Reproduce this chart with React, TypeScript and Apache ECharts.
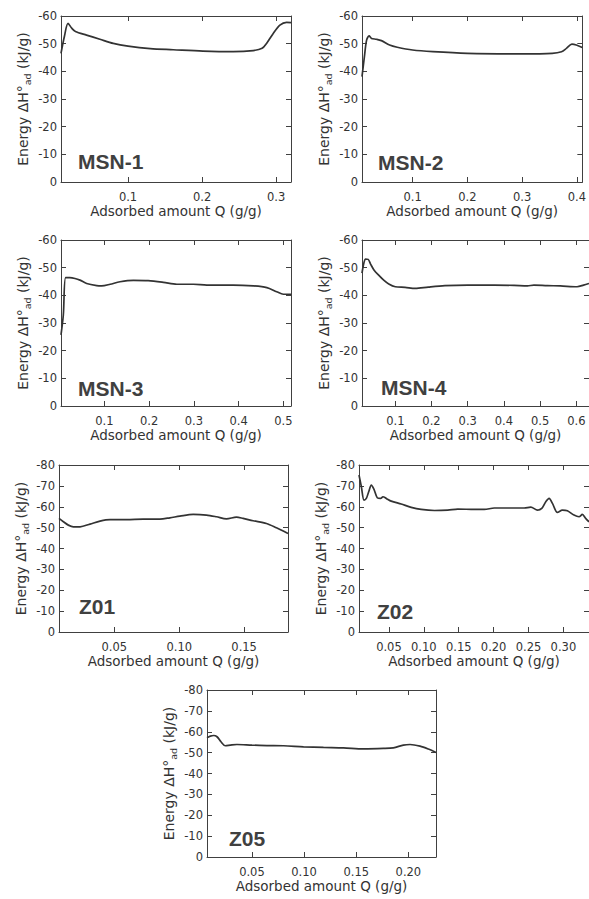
import React, { useEffect, useRef } from "react";
import * as echarts from "echarts";

// ---- data ----
const msn1Q = [0.0095, 0.014, 0.019, 0.024, 0.029, 0.044, 0.062, 0.08, 0.1, 0.13, 0.161, 0.201, 0.242, 0.269, 0.281, 0.287, 0.296, 0.305, 0.314, 0.32];
const msn1E = [-46.5, -52.5, -57.3, -55.6, -54.4, -53.1, -51.6, -50.1, -49.1, -48.2, -47.8, -47.3, -47.1, -47.5, -48.3, -50.1, -53.7, -56.7, -57.7, -57.6];

const msn2Q = [0.0076, 0.012, 0.016, 0.0206, 0.025, 0.034, 0.043, 0.058, 0.072, 0.1, 0.137, 0.2, 0.3, 0.355, 0.372, 0.381, 0.391, 0.399, 0.41];
const msn2E = [-38.1, -45.3, -51.3, -52.8, -51.9, -51.6, -51.1, -49.5, -48.7, -47.7, -47.1, -46.5, -46.3, -46.5, -47.1, -48.3, -49.8, -49.5, -48.6];

const msn3Q = [0.0032, 0.0084, 0.0136, 0.023, 0.0344, 0.0456, 0.0605, 0.083, 0.094, 0.113, 0.135, 0.165, 0.198, 0.232, 0.262, 0.299, 0.329, 0.388, 0.433, 0.463, 0.485, 0.5, 0.517];
const msn3E = [-25.7, -32.9, -46.4, -46.4, -46.1, -45.5, -44.3, -43.5, -43.4, -44.0, -44.9, -45.4, -45.3, -44.7, -44.0, -44.0, -43.7, -43.7, -43.4, -42.8, -41.3, -40.4, -40.4];

const msn4Q = [0.008, 0.013, 0.018, 0.025, 0.032, 0.041, 0.054, 0.068, 0.082, 0.1, 0.127, 0.155, 0.191, 0.237, 0.3, 0.374, 0.428, 0.465, 0.483, 0.52, 0.556, 0.602, 0.62, 0.635];
const msn4E = [-48, -51.6, -53.1, -53, -51.2, -49.2, -47.3, -45.5, -44.1, -43.1, -42.9, -42.5, -43, -43.5, -43.7, -43.7, -43.6, -43.4, -43.7, -43.5, -43.4, -43.1, -43.7, -44.3];

const z01Q = [0.0074, 0.0108, 0.0146, 0.0185, 0.0236, 0.0313, 0.039, 0.0467, 0.0595, 0.0723, 0.0851, 0.0928, 0.1005, 0.1108, 0.121, 0.1287, 0.1364, 0.1441, 0.1492, 0.1569, 0.1672, 0.1749, 0.1838];
const z01E = [-54.4, -52.8, -51.2, -50.4, -50.4, -51.7, -53.1, -53.8, -53.8, -54.1, -54.1, -54.7, -55.5, -56.3, -56.0, -55.2, -54.2, -55.0, -54.4, -53.3, -52.0, -49.9, -47.2];

const z02Q = [0.0071, 0.0105, 0.0143, 0.0176, 0.021, 0.0248, 0.0286, 0.0333, 0.0381, 0.0414, 0.0462, 0.0533, 0.0676, 0.0819, 0.0962, 0.1152, 0.1343, 0.1486, 0.1724, 0.1867, 0.201, 0.2248, 0.2438, 0.2533, 0.2629, 0.269, 0.2748, 0.2795, 0.2843, 0.2914, 0.2986, 0.3057, 0.3152, 0.3224, 0.3271, 0.3319, 0.3367];
const z02E = [-75.2, -69.6, -63.2, -64.0, -67.2, -70.4, -68.3, -64.3, -64.0, -64.8, -64.0, -62.7, -61.3, -59.7, -58.7, -58.2, -58.4, -58.9, -58.7, -58.7, -59.4, -59.4, -59.4, -59.8, -58.4, -59.2, -62.4, -64.0, -61.6, -57.3, -58.4, -58.1, -56.0, -55.2, -56.3, -54.4, -52.8];

const z05Q = [0.0069, 0.0101, 0.0133, 0.0165, 0.0203, 0.0245, 0.0293, 0.0356, 0.05, 0.0644, 0.0803, 0.0995, 0.1186, 0.1378, 0.1569, 0.1761, 0.1856, 0.1952, 0.2016, 0.2112, 0.2192, 0.2265];
const z05E = [-57.1, -57.9, -58.2, -57.6, -55.2, -53.3, -53.6, -53.9, -53.6, -53.4, -53.3, -52.8, -52.5, -52.3, -51.8, -52.0, -52.3, -53.6, -53.9, -53.1, -51.7, -50.1];

const msn1Ticks = [0.1, 0.2, 0.3];
const msn2Ticks = [0.1, 0.2, 0.3, 0.4];
const msn3Ticks = [0.1, 0.2, 0.3, 0.4, 0.5];
const msn4Ticks = [0.1, 0.2, 0.3, 0.4, 0.5, 0.6];
const z01Ticks = [0.05, 0.1, 0.15];
const z02Ticks = [0.05, 0.1, 0.15, 0.2, 0.25, 0.3];
const z05Ticks = [0.05, 0.1, 0.15, 0.2];

const panelNames = ["MSN-1", "MSN-2", "MSN-3", "MSN-4", "Z01", "Z02", "Z05"];
const xTitle = "Adsorbed amount Q (g/g)";

// ---- layout ----
const panels = [
  { q: msn1Q, e: msn1E, ticks: msn1Ticks, dec: 1, xMin: 0.0095, xMax: 0.32, yMin: -60, grid: { left: 61, top: 16, width: 230, height: 166 }, lab: [78, 161] },
  { q: msn2Q, e: msn2E, ticks: msn2Ticks, dec: 1, xMin: 0.0076, xMax: 0.41, yMin: -60, grid: { left: 362, top: 16, width: 228, height: 166 }, lab: [378, 162.5] },
  { q: msn3Q, e: msn3E, ticks: msn3Ticks, dec: 1, xMin: 0.0032, xMax: 0.517, yMin: -60, grid: { left: 61, top: 240, width: 230, height: 166 }, lab: [78, 388.5] },
  { q: msn4Q, e: msn4E, ticks: msn4Ticks, dec: 1, xMin: 0.008, xMax: 0.635, yMin: -60, grid: { left: 362, top: 240, width: 228, height: 166 }, lab: [381, 387.5] },
  { q: z01Q, e: z01E, ticks: z01Ticks, dec: 2, xMin: 0.0074, xMax: 0.1838, yMin: -80, grid: { left: 59, top: 465, width: 229, height: 167 }, lab: [79, 606] },
  { q: z02Q, e: z02E, ticks: z02Ticks, dec: 2, xMin: 0.0071, xMax: 0.3367, yMin: -80, grid: { left: 359, top: 465, width: 231, height: 167 }, lab: [377, 611] },
  { q: z05Q, e: z05E, ticks: z05Ticks, dec: 2, xMin: 0.0069, xMax: 0.2265, yMin: -80, grid: { left: 207, top: 690, width: 229, height: 167 }, lab: [229, 838] },
];

const FONT = "'DejaVu Sans', Verdana, sans-serif";
const AX = "#404040";
const TXT = "#333333";

export default function App() {
  const ref = useRef<HTMLDivElement>(null);
  useEffect(() => {
    if (!ref.current) return;
    const chart = echarts.init(ref.current, undefined, { renderer: "svg" });
    const grids: any[] = [];
    const xAxes: any[] = [];
    const yAxes: any[] = [];
    const series: any[] = [];
    const graphics: any[] = [];
    panels.forEach((p, i) => {
      grids.push({ ...p.grid, containLabel: false });
      const tickCommon = { show: true, inside: true, length: 5, customValues: p.ticks, lineStyle: { color: AX, width: 1 } };
      xAxes.push({
        type: "value", gridIndex: i, position: "bottom", min: p.xMin, max: p.xMax,
        axisLine: { show: true, onZero: false, lineStyle: { color: AX, width: 1 } },
        axisTick: tickCommon,
        axisLabel: { customValues: p.ticks, formatter: (v: number) => v.toFixed(p.dec), fontSize: 11.5, color: TXT, fontFamily: FONT, margin: 9 },
        splitLine: { show: false },
        name: xTitle, nameLocation: "middle", nameGap: 22,
        nameTextStyle: { fontSize: 13.5, color: TXT, fontFamily: FONT },
      });
      xAxes.push({
        type: "value", gridIndex: i, position: "top", min: p.xMin, max: p.xMax,
        axisLine: { show: true, onZero: false, lineStyle: { color: AX, width: 1 } },
        axisTick: tickCommon,
        axisLabel: { show: false },
        splitLine: { show: false },
      });
      const yTick = { show: true, inside: true, length: 5, lineStyle: { color: AX, width: 1 } };
      yAxes.push({
        type: "value", gridIndex: i, position: "left", inverse: true, min: p.yMin, max: 0, interval: 10,
        axisLine: { show: true, onZero: false, lineStyle: { color: AX, width: 1 } },
        axisTick: yTick,
        axisLabel: { fontSize: 11.5, color: TXT, fontFamily: FONT, margin: 4 },
        splitLine: { show: false },
        name: "{m|Energy ΔH°}{s|ad}{m| (kJ/g)}", nameLocation: "middle", nameGap: 31, nameRotate: 90,
        nameTextStyle: {
          color: TXT, fontFamily: FONT,
          rich: {
            m: { fontSize: 14, color: TXT, fontFamily: FONT, lineHeight: 14, verticalAlign: "top" },
            s: { fontSize: 9.5, color: TXT, fontFamily: FONT, lineHeight: 10, verticalAlign: "top", padding: [6, 0, 0, 0] },
          },
        },
      });
      yAxes.push({
        type: "value", gridIndex: i, position: "right", inverse: true, min: p.yMin, max: 0, interval: 10,
        axisLine: { show: true, onZero: false, lineStyle: { color: AX, width: 1 } },
        axisTick: yTick,
        axisLabel: { show: false },
        splitLine: { show: false },
      });
      series.push({
        type: "line", xAxisIndex: 2 * i, yAxisIndex: 2 * i,
        data: p.q.map((q, k) => [q, p.e[k]]),
        showSymbol: false, smooth: 0.3, clip: true,
        lineStyle: { color: "#333333", width: 1.7 },
      });
      graphics.push({
        type: "text", x: p.lab[0], y: p.lab[1],
        style: { text: panelNames[i], fill: "#404040", font: "bold 21px 'Liberation Sans', Arial, sans-serif", textVerticalAlign: "middle", textAlign: "left" },
      });
    });
    chart.setOption({
      animation: false,
      backgroundColor: "#ffffff",
      grid: grids,
      xAxis: xAxes,
      yAxis: yAxes,
      series,
      graphic: graphics,
    });
    return () => chart.dispose();
  }, []);
  return <div ref={ref} style={{ position: "absolute", left: 0, top: 0, width: 589, height: 899, overflow: "hidden" }} />;
}
